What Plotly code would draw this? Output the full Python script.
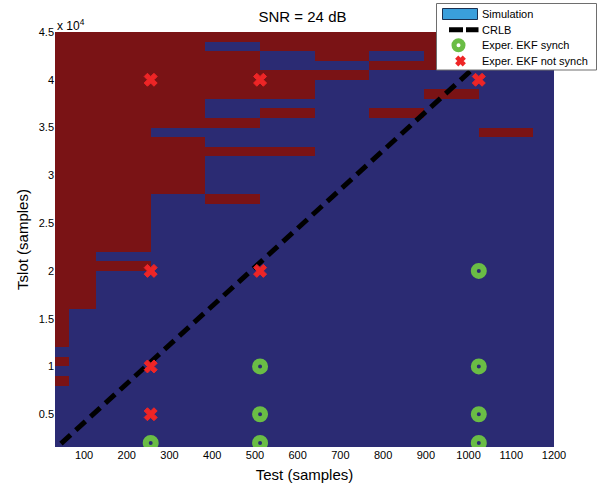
import plotly.graph_objects as go

# ---------------- data ----------------
# Simulation map: column edges (Test, samples) and row edges (Tslot, samples)
test_edges = [32, 64, 128, 256, 384, 512, 640, 768, 896, 1024, 1152, 1200]
tslot_edges = [1000, 2000, 3000, 4000, 5000, 6000, 7000, 8000, 9000, 10000,
               11000, 12000, 13000, 14000, 15000, 16000, 17000, 18000, 19000, 20000,
               21000, 22000, 23000, 24000, 25000, 26000, 27000, 28000, 29000, 30000,
               31000, 32000, 33000, 34000, 35000, 36000, 37000, 38000, 39000, 40000,
               41000, 42000, 43000, 44000, 45000]
# 1 = not synchronised (dark red), 0 = synchronised (dark blue); rows listed from top (44000-45000) to bottom (1000-2000)
sim_rows_top_down = [
    "11111111110",
    "11110111100",
    "11111010100",
    "11111001100",
    "11111110000",
    "11111100000",
    "11111100100",
    "11110000000",
    "11110101000",
    "11111000000",
    "11100000010",
    "11110000000",
    "11111100000",
    "11110000000",
    "11110000000",
    "11110000000",
    "11110000000",
    "11101000000",
    "11100000000",
    "11100000000",
    "11100000000",
    "11100000000",
    "11100000000",
    "11000000000",
    "11100000000",
    "11000000000",
    "11000000000",
    "11000000000",
    "11000000000",
    "10000000000",
    "10000000000",
    "10000000000",
    "10000000000",
    "00000000000",
    "10000000000",
    "00000000000",
    "10000000000",
    "00000000000",
    "00000000000",
    "00000000000",
    "00000000000",
    "00000000000",
    "00000000000",
    "00000000000",
]

# CRLB line
crlb_test = [46, 1105]
crlb_tslot = [1930, 45000]

# Experimental EKF results
synch_test = [256, 512, 512, 512, 1024, 1024, 1024, 1024]
synch_tslot = [2000, 2000, 5000, 10000, 2000, 5000, 10000, 20000]
nosynch_test = [256, 512, 1024, 256, 512, 256, 256]
nosynch_tslot = [40000, 40000, 40000, 20000, 20000, 10000, 5000]

x_ticks = [100, 200, 300, 400, 500, 600, 700, 800, 900, 1000, 1100, 1200]
y_tickvals = [5000, 10000, 15000, 20000, 25000, 30000, 35000, 40000, 45000]
y_ticktext = ["0.5", "1", "1.5", "2", "2.5", "3", "3.5", "4", "4.5"]

# ---------------- styling ----------------
RED = "#7a1315"
BLUE = "#2b2b73"
GREEN = "#6abd45"
XRED = "#ee2526"
FONT = "Arial, Liberation Sans, sans-serif"

z = [[int(ch) for ch in row] for row in reversed(sim_rows_top_down)]

fig = go.Figure()
fig.add_trace(go.Heatmap(
    x=test_edges, y=tslot_edges, z=z,
    colorscale=[[0, BLUE], [0.5, BLUE], [0.5, RED], [1, RED]],
    zmin=0, zmax=1, showscale=False, name="Simulation", hoverinfo="skip"))
fig.add_trace(go.Scatter(
    x=crlb_test, y=crlb_tslot, mode="lines", name="CRLB",
    line=dict(color="black", width=5, dash="13px,7px")))
fig.add_trace(go.Scatter(
    x=synch_test, y=synch_tslot, mode="markers", name="Exper. EKF synch",
    marker=dict(symbol="circle-open", size=10, color=GREEN,
                line=dict(width=6, color=GREEN))))
fig.add_trace(go.Scatter(
    x=nosynch_test, y=nosynch_tslot, mode="markers", name="Exper. EKF not synch",
    marker=dict(symbol="x", size=11.5, color=XRED, line=dict(width=1, color=XRED))))

# plot-area pixel geometry (for legend placement)
L, R, T, B = 55, 554, 32, 447
W, H = R - L, B - T


def pxx(p):
    return (p - L) / W


def pxy(p):
    return (B - p) / H


shapes = []
# legend box
shapes.append(dict(type="rect", xref="paper", yref="paper",
                   x0=pxx(436.5), x1=pxx(596.5), y0=pxy(70), y1=pxy(3.5),
                   fillcolor="white", line=dict(color="#6e6e6e", width=1), layer="above"))
# Simulation patch
shapes.append(dict(type="rect", xref="paper", yref="paper",
                   x0=pxx(442.5), x1=pxx(477.5), y0=pxy(19.5), y1=pxy(8.5),
                   fillcolor="#3a9fdc", line=dict(color="#1c3050", width=1), layer="above"))
# CRLB glyph
shapes.append(dict(type="line", xref="paper", yref="paper",
                   x0=pxx(449), x1=pxx(478.5), y0=pxy(29.7), y1=pxy(29.7),
                   line=dict(color="black", width=5, dash="14px,3px"), layer="above"))
# green ring glyph
cx, cy = 458.5, 45.2
shapes.append(dict(type="circle", xref="paper", yref="paper",
                   x0=pxx(cx - 4.5), x1=pxx(cx + 4.5), y0=pxy(cy + 4.5), y1=pxy(cy - 4.5),
                   line=dict(color=GREEN, width=5), layer="above"))
# red X glyph
cx, cy = 460.5, 61
d = 3.8
path = "M {} {} L {} {} M {} {} L {} {}".format(
    pxx(cx - d), pxy(cy - d), pxx(cx + d), pxy(cy + d),
    pxx(cx - d), pxy(cy + d), pxx(cx + d), pxy(cy - d))
shapes.append(dict(type="path", xref="paper", yref="paper", path=path,
                   line=dict(color=XRED, width=4.5), layer="above"))

annotations = []
for label, yy in [("Simulation", 14), ("CRLB", 29.7),
                  ("Exper. EKF synch", 45.2), ("Exper. EKF not synch", 61)]:
    annotations.append(dict(text=label, xref="paper", yref="paper",
                            x=pxx(480), y=pxy(yy), xanchor="left", yanchor="middle",
                            showarrow=False, font=dict(family=FONT, size=11, color="black")))
# axis multiplier
annotations.append(dict(text="x 10<sup>4</sup>", xref="paper", yref="paper",
                        x=0, y=1, xanchor="left", yanchor="bottom", yshift=-3,
                        showarrow=False,
                        font=dict(family=FONT, size=12, color="black")))

fig.update_layout(
    width=608, height=487,
    margin=dict(l=L, r=608 - R, t=T, b=487 - B, autoexpand=False),
    paper_bgcolor="white", plot_bgcolor="white",
    showlegend=False,
    font=dict(family=FONT, size=11, color="black"),
    title=dict(text="SNR = 24 dB", x=302.5 / 608, xanchor="center",
               y=1 - 17 / 487, yanchor="middle",
               font=dict(family=FONT, size=15, color="black")),
    shapes=shapes, annotations=annotations,
)
fig.update_xaxes(range=[32, 1200], tickvals=x_ticks, ticks="", showgrid=False,
                 zeroline=False, showline=False, automargin=False,
                 tickfont=dict(family=FONT, size=11, color="black"),
                 title=dict(text="Test (samples)", standoff=9,
                            font=dict(family=FONT, size=15, color="black")))
fig.update_yaxes(range=[1570, 45000], tickvals=y_tickvals, ticktext=y_ticktext, ticks="",
                 showgrid=False, zeroline=False, showline=False, automargin=False,
                 tickfont=dict(family=FONT, size=11, color="black"),
                 title=dict(text="Tslot (samples)", standoff=6,
                            font=dict(family=FONT, size=15, color="black")))

fig.write_html("out.html")
